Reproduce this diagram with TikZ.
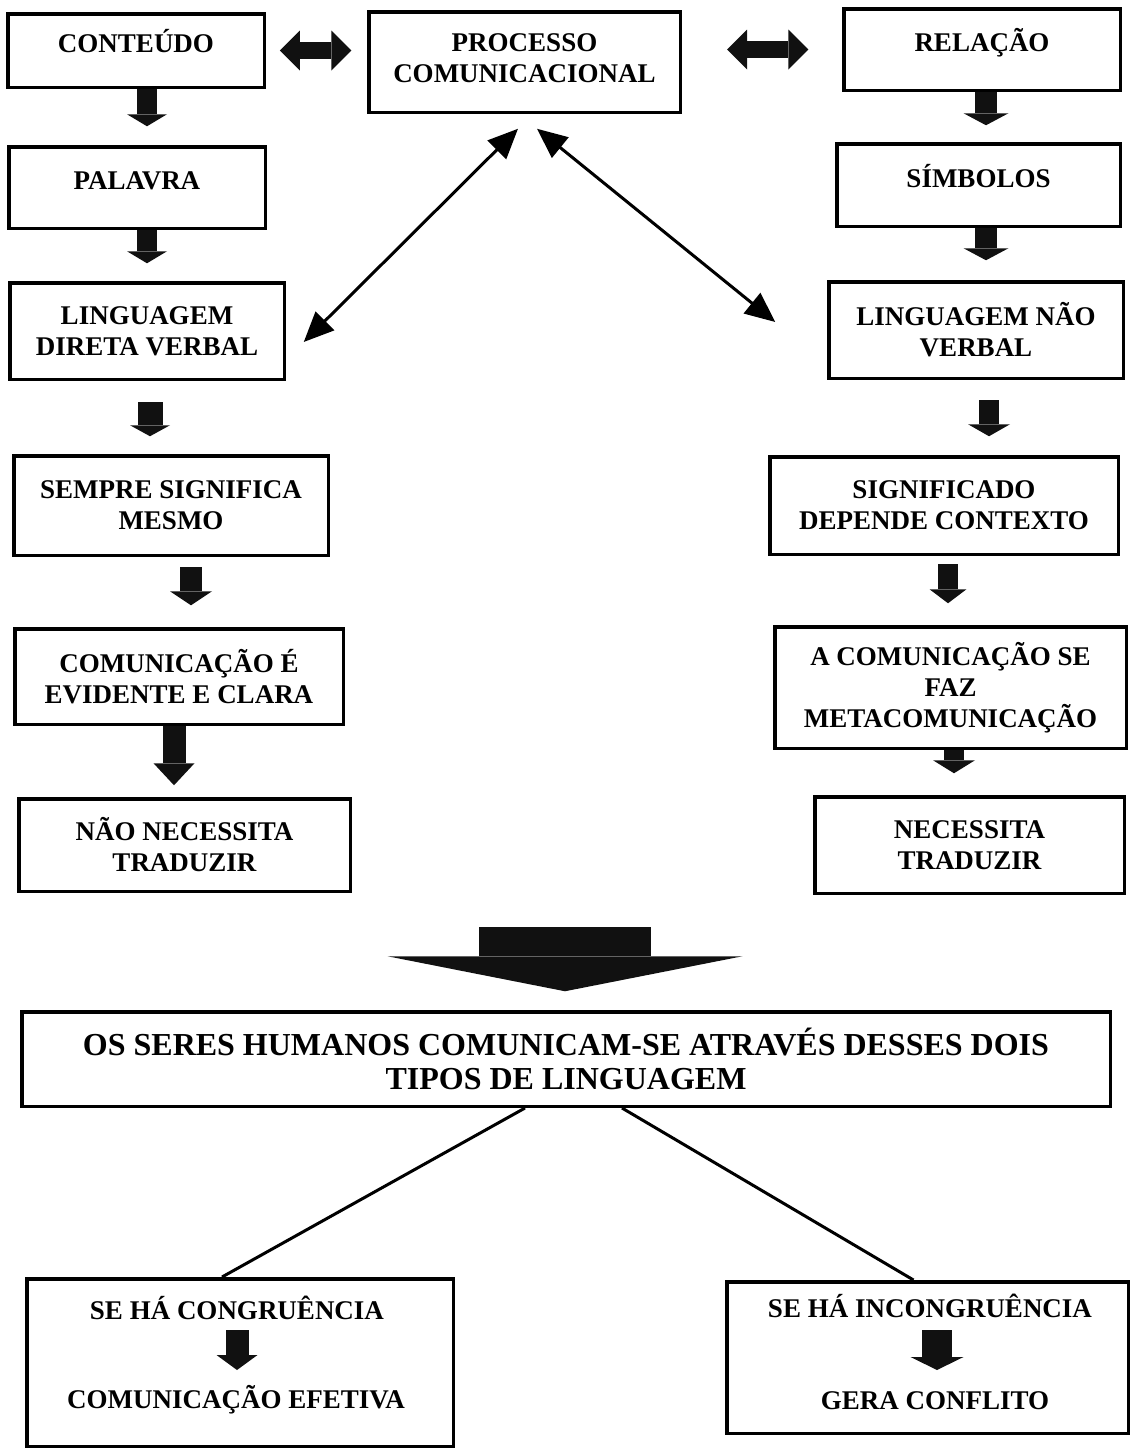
\documentclass[tikz,border=0pt]{standalone}
\usepackage{fontspec}
\setmainfont{Liberation Serif}
\usetikzlibrary{arrows.meta}
\definecolor{arrowc}{HTML}{111111}
\begin{document}
\begin{tikzpicture}[x=1pt,y=-1pt,
  box/.style={draw=black, line width=3.5pt, inner sep=0pt, align=center, font=\fontsize{27}{31}\selectfont\bfseries},
  one/.style={text height=20pt, text depth=16pt},
  txt/.style={inner sep=0pt, anchor=base, font=\fontsize{27}{31}\selectfont\bfseries},
  blk/.style n args={3}{draw=arrowc, line width=#1, -{Triangle[length=#3, width=#2, line width=0pt]}},
  dbl/.style n args={3}{draw=arrowc, line width=#1, {Triangle[length=#3, width=#2, line width=0pt]}-{Triangle[length=#3, width=#2, line width=0pt]}},
  thinarr/.style={draw=black, line width=3pt, {Triangle[length=30pt,width=26pt]}-{Triangle[length=30pt,width=26pt]}},
  conn/.style={draw=black, line width=3pt}
]
\useasboundingbox (0,0) rectangle (1133,1451);

% boxes
\node[box, one, minimum width=256.5pt, minimum height=73.5pt] (conteudo) at (136,50.5) {CONTEÚDO};
\node[box, minimum width=311.5pt, minimum height=100.5pt] (processo) at (524.5,62) {PROCESSO\\COMUNICACIONAL\rule[-8pt]{0pt}{8pt}};
\node[box, one, minimum width=276.5pt, minimum height=81.5pt] (relacao) at (982,49.5) {RELAÇÃO};
\node[box, one, minimum width=256.5pt, minimum height=81.5pt] (palavra) at (137,187.5) {PALAVRA};
\node[box, one, minimum width=283.5pt, minimum height=82.5pt] (simbolos) at (978.5,185) {SÍMBOLOS};
\node[box, minimum width=274.5pt, minimum height=96.5pt] (lingdir) at (147,331) {LINGUAGEM\\DIRETA VERBAL};
\node[box, minimum width=294.5pt, minimum height=96.5pt] (lingnao) at (976,330) {LINGUAGEM NÃO\\VERBAL};
\node[box, minimum width=314.5pt, minimum height=99.5pt] (sempre) at (171,505.5) {SEMPRE SIGNIFICA\\MESMO};
\node[box, minimum width=348.5pt, minimum height=97.5pt] (signif) at (944,505.5) {SIGNIFICADO\\DEPENDE CONTEXTO};
\node[box, minimum width=328.5pt, minimum height=95.5pt] (evid) at (179,676.5) {COMUNICAÇÃO É\\EVIDENTE E CLARA};
\node[box, minimum width=351.5pt, minimum height=121.5pt] (meta) at (950.5,687.5) {A COMUNICAÇÃO SE\\FAZ\\METACOMUNICAÇÃO};
\node[box, minimum width=331.5pt, minimum height=92.5pt] (naonec) at (184.5,845) {NÃO NECESSITA\\TRADUZIR};
\node[box, minimum width=309.5pt, minimum height=96.5pt] (nec) at (969.5,845) {NECESSITA\\TRADUZIR};
\node[box, minimum width=1088.5pt, minimum height=94.5pt, font=\fontsize{32}{34}\selectfont\bfseries] (big) at (566,1059) {OS SERES HUMANOS COMUNICAM-SE ATRAVÉS DESSES DOIS\\TIPOS DE LINGUAGEM};
\node[box, minimum width=426.5pt, minimum height=167.5pt] (congr) at (240,1362.5) {};
\node[box, minimum width=401.5pt, minimum height=151.5pt] (incong) at (927.5,1357.5) {};

% texts inside bottom boxes
\node[txt] (congr1) at (237,1319) {SE HÁ CONGRUÊNCIA};
\node[txt] (congr2) at (236,1408) {COMUNICAÇÃO EFETIVA};
\node[txt] (incong1) at (930,1317) {SE HÁ INCONGRUÊNCIA};
\node[txt] (incong2) at (935,1409) {GERA CONFLITO};

% block arrows, left column
\draw[blk={20pt}{40pt}{12pt}, shorten >=18.75pt] (conteudo.south -| 147,0) -- (palavra.north -| 147,0);
\draw[blk={20pt}{40pt}{12pt}, shorten >=17.75pt] (palavra.south -| 147,0) -- (lingdir.north -| 147,0);
\draw[blk={25pt}{40pt}{11pt}, shorten <=21pt, shorten >=17.75pt] (lingdir.south -| 150,0) -- (sempre.north -| 150,0);
\draw[blk={22pt}{42pt}{14pt}, shorten <=10pt, shorten >=21.75pt] (sempre.south -| 191,0) -- (evid.north -| 191,0);
\draw[blk={23pt}{41pt}{22pt}, shorten >=11.75pt] (evid.south -| 174,0) -- (naonec.north -| 174,0);

% block arrows, right column
\draw[blk={22pt}{45pt}{12pt}, shorten >=16.75pt] (relacao.south -| 986,0) -- (simbolos.north -| 986,0);
\draw[blk={22pt}{45pt}{12pt}, shorten >=19.75pt] (simbolos.south -| 986,0) -- (lingnao.north -| 986,0);
\draw[blk={20pt}{42pt}{12pt}, shorten <=20pt, shorten >=18.75pt] (lingnao.south -| 989,0) -- (signif.north -| 989,0);
\draw[blk={20pt}{37pt}{14pt}, shorten <=8pt, shorten >=21.75pt] (signif.south -| 948,0) -- (meta.north -| 948,0);
\draw[blk={20pt}{42pt}{13pt}, shorten >=21.75pt] (meta.south -| 954,0) -- (nec.north -| 954,0);

% horizontal double arrows
\draw[dbl={17pt}{40pt}{20pt}, shorten <=13.75pt, shorten >=15.75pt] (conteudo.east) -- (conteudo.east -| processo.west);
\draw[dbl={17pt}{40pt}{20pt}, shorten <=45pt, shorten >=33.75pt] (relacao.west -| processo.east) -- (relacao.west);

% thin double arrows
\draw[thinarr] ([shift={(-6.5,14.75)}]processo.south) -- ([shift={(17.75,11)}]lingdir.east);
\draw[thinarr] ([shift={(12.5,14.75)}]processo.south) -- ([shift={(-51.75,-8)}]lingnao.west);

% big arrow
\coordinate (bigtop) at (565,927);
\draw[blk={172pt}{355pt}{35pt}, shorten >=18.75pt] (bigtop) -- (big.north -| bigtop);

% connectors to bottom boxes
\draw[conn] ([shift={(-41,0)}]big.south) -- ([shift={(-18,0)}]congr.north);
\draw[conn] ([shift={(56,0)}]big.south) -- ([shift={(-14,0)}]incong.north);

% arrows inside bottom boxes
\draw[blk={23pt}{41pt}{15pt}] ([shift={(0,11)}]congr1.base) -- ([shift={(1,-38)}]congr2.base);
\draw[blk={30pt}{53pt}{13pt}] ([shift={(7,13)}]incong1.base) -- ([shift={(2,-39)}]incong2.base);
\end{tikzpicture}
\end{document}
